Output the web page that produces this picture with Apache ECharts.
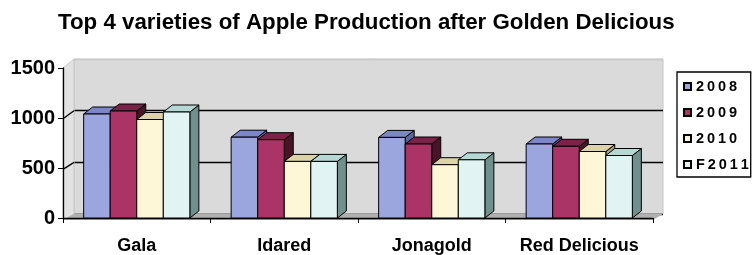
<!DOCTYPE html>
<html>
<head>
<meta charset="utf-8">
<script src="https://cdn.jsdelivr.net/npm/echarts@6/dist/echarts.min.js"></script>
<style>
    html, body { margin: 0; padding: 0; background: #fff; }
    #chart { width: 753px; height: 255px; }
</style>
</head>
<body>
<div id="chart"></div>
<script>
// 数据
var categories = ['Gala', 'Idared', 'Jonagold', 'Red Delicious'];
var seriesNames = ['2008', '2009', '2010', 'F2011'];
var v2008 = [1040, 808, 806, 740];
var v2009 = [1070, 783, 740, 717];
var v2010 = [985, 566, 533, 665];
var vF2011 = [1060, 566, 582, 625];
var yTicks = [0, 500, 1000, 1500];

(function() {
    var font = '"Liberation Sans", Arial, sans-serif';
    var yMax = yTicks[yTicks.length - 1];

    // 前平面 (front) 和 后墙 (back wall)
    var front = { left: 63, right: 653, top: 68, bottom: 220 };
    var back = { left: 74, right: 663, top: 59, bottom: 214 };
    // 柱子厚度
    var DX = 9, DY = -7;

    var palette = [
        { front: '#9ca6de', top: '#7c86c8', side: '#5c66a6' },
        { front: '#aa3465', top: '#7c2147', side: '#4a1428' },
        { front: '#fdf7d8', top: '#dcd3a9', side: '#a59f7e' },
        { front: '#e1f3f3', top: '#b6d8d5', side: '#6f908d' }
    ];
    var values = [v2008, v2009, v2010, vF2011];

    function makeRender(idx) {
        return function(params, api) {
            var cat = api.value(0);
            var val = api.value(1);
            var band = api.size([1, 0])[0];
            var w = band * 0.18;
            var base = api.coord([cat, 0]);
            var top = api.coord([cat, val]);
            var x0 = base[0] + (idx - 2) * w;
            var x1 = x0 + w;
            var y0 = top[1];
            var y1 = base[1];
            var c = palette[idx];
            return {
                type: 'group',
                children: [{
                    type: 'polygon',
                    shape: { points: [[x1, y0], [x1 + DX, y0 + DY], [x1 + DX, y1 + DY], [x1, y1]] },
                    style: { fill: c.side, stroke: '#000', lineWidth: 1 }
                }, {
                    type: 'polygon',
                    shape: { points: [[x0, y0], [x0 + DX, y0 + DY], [x1 + DX, y0 + DY], [x1, y0]] },
                    style: { fill: c.top, stroke: '#000', lineWidth: 1 }
                }, {
                    type: 'rect',
                    shape: { x: x0, y: y0, width: w, height: y1 - y0 },
                    style: { fill: c.front, stroke: '#000', lineWidth: 1 }
                }]
            };
        };
    }

    var series = seriesNames.map(function(name, i) {
        return {
            name: name,
            type: 'custom',
            xAxisIndex: 0,
            yAxisIndex: 0,
            z: 5,
            renderItem: makeRender(i),
            itemStyle: { color: palette[i].front, borderColor: '#000', borderWidth: 1 },
            encode: { x: 0, y: 1 },
            data: values[i].map(function(v, k) { return [k, v]; })
        };
    });

    // 侧墙、地板、侧墙网格线
    function fy(v) { return front.bottom - (front.bottom - front.top) * v / yMax; }
    function by(v) { return back.bottom - (back.bottom - back.top) * v / yMax; }
    var graphics = [{
        type: 'polygon',
        z: 1,
        shape: { points: [[front.left, front.top], [back.left, back.top], [back.left, back.bottom], [front.left, front.bottom]] },
        style: { fill: '#e2e2e2', stroke: '#c8c8c8', lineWidth: 1 }
    }, {
        type: 'polygon',
        z: 1,
        shape: { points: [[front.left, front.bottom], [back.left, back.bottom], [back.right, back.bottom], [front.right, front.bottom]] },
        style: { fill: '#b0b0b0' }
    }];
    yTicks.slice(1, -1).forEach(function(v) {
        graphics.push({
            type: 'line',
            z: 1,
            shape: { x1: front.left, y1: fy(v), x2: back.left, y2: by(v) },
            style: { stroke: '#000', lineWidth: 1.3 }
        });
    });

    var option = {
        animation: false,
        title: {
            text: 'Top 4 varieties of Apple Production after Golden Delicious',
            left: 58,
            top: 12,
            padding: 0,
            textStyle: { fontFamily: font, fontSize: 22.3, fontWeight: 'bold', color: '#000' }
        },
        legend: {
            data: seriesNames,
            orient: 'vertical',
            left: 677,
            top: 72,
            padding: [7, 2, 5, 6],
            itemGap: 11,
            itemWidth: 7,
            itemHeight: 7,
            icon: 'rect',
            borderColor: '#000',
            borderWidth: 1.3,
            formatter: function(name) {
                return name.split('').join('\u2009');
            },
            textStyle: { fontFamily: font, fontSize: 14.5, fontWeight: 'bold', color: '#000' }
        },
        grid: [{
            left: front.left,
            right: 753 - front.right,
            top: front.top,
            bottom: 255 - front.bottom
        }, {
            left: back.left,
            right: 753 - back.right,
            top: back.top,
            bottom: 255 - back.bottom,
            show: true,
            backgroundColor: '#dadada',
            borderColor: '#c8c8c8',
            borderWidth: 1
        }],
        xAxis: [{
            gridIndex: 0,
            type: 'category',
            data: categories,
            z: 3,
            axisLine: { lineStyle: { color: '#000', width: 1.3 } },
            axisTick: { show: true, length: 5, lineStyle: { color: '#000' } },
            axisLabel: { interval: 0, margin: 19, fontFamily: font, fontSize: 18, fontWeight: 'bold', color: '#000' }
        }, {
            gridIndex: 1,
            type: 'category',
            data: categories,
            show: false
        }],
        yAxis: [{
            gridIndex: 0,
            type: 'value',
            min: 0,
            max: yMax,
            interval: 500,
            z: 3,
            axisLine: { show: true, lineStyle: { color: '#000', width: 1.3 } },
            axisTick: { show: true, length: 5, lineStyle: { color: '#000' } },
            axisLabel: {
                margin: 8,
                fontFamily: font,
                fontSize: 20,
                fontWeight: 'bold',
                color: '#000',
                formatter: function(v) { return String(v); }
            },
            splitLine: { show: false }
        }, {
            gridIndex: 1,
            type: 'value',
            min: 0,
            max: yMax,
            interval: 500,
            axisLine: { show: false },
            axisTick: { show: false },
            axisLabel: { show: false },
            splitLine: { lineStyle: { color: ['#000', '#000', '#000', '#c8c8c8'], width: 1.3 } }
        }],
        graphic: graphics,
        series: series
    };

    var myChart = echarts.init(document.getElementById('chart'));
    myChart.setOption(option);
})();
</script>
</body>
</html>
